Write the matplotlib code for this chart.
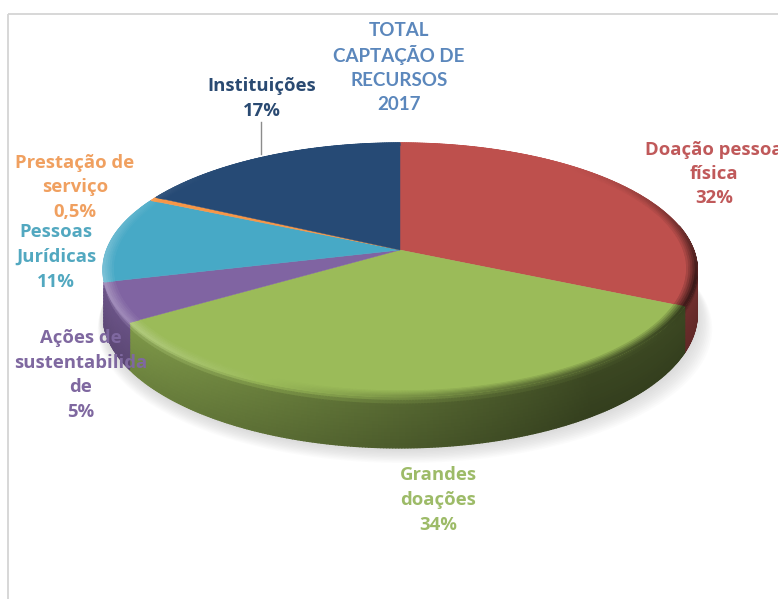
import numpy as np
import matplotlib
matplotlib.use('Agg')
import matplotlib.pyplot as plt
from matplotlib.collections import PolyCollection
from matplotlib.colors import to_rgb

title_lines = ['TOTAL', 'CAPTAÇÃO DE', 'RECURSOS', '2017']
categories = ['Doação pessoa\nfísica', 'Grandes\ndoações', 'Ações de\nsustentabilida\nde',
              'Pessoas\nJurídicas', 'Prestação de\nserviço', 'Instituições']
values = [32, 34, 5, 11, 0.5, 17]
value_labels = ['32%', '34%', '5%', '11%', '0,5%', '17%']
colors = ['#BE504D', '#9BBB59', '#8064A2', '#47A9C6', '#F79646', '#264A75']
text_colors = ['#C0595A', '#9DBB68', '#7F68A0', '#52A8C0', '#F0A060', '#2A4A72']

# where each label sits, in pixels: centre x, first line y, line step
label_pos = [(714, 150, 24.2), (438, 475, 25), (81, 338, 24.7),
             (56, 232, 25), (75, 163, 24.5), (262, 86, 25)]

plt.rcParams['font.family'] = ['Open Sans', 'DejaVu Sans']

W, H = 778, 599
fig = plt.figure(figsize=(W / 100, H / 100), dpi=100)
ax = fig.add_axes([0, 0, 1, 1])
ax.set_xlim(0, W)
ax.set_ylim(H, 0)
ax.axis('off')

# pie plane seen in perspective
CX, CY = 400, 250
RX, RY = 293.6, 124
K = 0.156
DEPTH = 43


def project(theta, r=1.0):
    # theta in degrees, clockwise from 12 o'clock
    t = np.radians(theta)
    u, v = r * np.sin(t), r * np.cos(t)
    w = 1 / (1 + K * v)
    return CX + RX * u * w, CY - RY * v * w, w


def shade(c, f):
    c = np.array(c)
    if f > 1:
        return tuple(c + (1 - c) * (f - 1))
    return tuple(c * f)


def mix(a, b, t):
    return tuple(np.array(a) * (1 - t) + np.array(b) * t)


def rim_factor(u):
    return 0.8 - 0.5 * u


edges = np.cumsum([0] + values) / 100 * 360
edges[-1] = 360

# soft shadow under the disc
th = np.linspace(0, 360, 361)
px, py, pw = project(th)
for d in np.linspace(20, 2, 10):
    ax.fill(CX + (px - CX) * (1 + d / 600) + d * 0.25, py + (DEPTH + 1) * pw + d * 0.7,
            color='#808080', alpha=0.028, lw=0, zorder=1)

# side wall, small quads so the gradient follows the rim
polys, cols = [], []
step = 0.5
n_depth = 14
for i, val in enumerate(values):
    base = to_rgb(colors[i])
    a = edges[i]
    while a < edges[i + 1] - 1e-6:
        b = min(a + step, edges[i + 1])
        xa, ya, wa = project(a)
        xb, yb, wb = project(b)
        m = (a + b) / 2
        u, v = np.sin(np.radians(m)), np.cos(np.radians(m))
        if v < 0.2 and not (u < 0 and v > -0.25):
            f = max(0.55 - 0.3 * u, 0.38)
            if i == 0:
                f = 0.58
            side = shade(base, f)
            glow = shade(base, rim_factor(u))
            for j in range(n_depth):
                t0, t1 = j / n_depth, (j + 1) / n_depth
                tm = (t0 + t1) / 2
                if tm < 0.16:
                    c = mix(glow, side, tm / 0.16)
                else:
                    c = mix(side, shade(side, 0.88), (tm - 0.16) / 0.84)
                polys.append([(xa, ya + DEPTH * wa * t0), (xb, yb + DEPTH * wb * t0),
                              (xb, yb + DEPTH * wb * t1), (xa, ya + DEPTH * wa * t1)])
                cols.append(c)
        a = b
ax.add_collection(PolyCollection(polys, facecolors=cols, edgecolors=cols, linewidths=1.0, zorder=2))

# top face
for i, val in enumerate(values):
    th = np.arange(edges[i], edges[i + 1] + 0.01, 0.25)
    if th[-1] < edges[i + 1]:
        th = np.append(th, edges[i + 1])
    x, y, _ = project(th)
    ax.fill(np.r_[CX, x], np.r_[CY, y], color=colors[i], lw=0.3, zorder=3)

# rounded edge of the top face
polys, cols = [], []
rings = np.linspace(0.965, 1.0, 6)
for i, val in enumerate(values):
    base = to_rgb(colors[i])
    a = edges[i]
    while a < edges[i + 1] - 1e-6:
        b = min(a + step, edges[i + 1])
        m = (a + b) / 2
        u, v = np.sin(np.radians(m)), np.cos(np.radians(m))
        strength = np.clip(0.75 - v, 0, 1)
        rim = shade(base, rim_factor(u))
        for r0, r1 in zip(rings[:-1], rings[1:]):
            xa0, ya0, _ = project(a, r0)
            xb0, yb0, _ = project(b, r0)
            xa1, ya1, _ = project(a, r1)
            xb1, yb1, _ = project(b, r1)
            t = (r1 - rings[0]) / (rings[-1] - rings[0]) * strength
            polys.append([(xa0, ya0), (xb0, yb0), (xb1, yb1), (xa1, ya1)])
            cols.append(mix(base, rim, t))
        a = b
ax.add_collection(PolyCollection(polys, facecolors=cols, edgecolors=cols, linewidths=0.6, zorder=4))

# frame of the picture
ax.plot([8, 8], [14, H], color='#d4d4d4', lw=1.3, zorder=5, solid_capstyle='butt')
ax.plot([8, W], [14, 14], color='#d4d4d4', lw=1.3, zorder=5, solid_capstyle='butt')

# leader line for Instituições
ax.plot([261, 261], [122, 154], color='#8c8c8c', lw=1, zorder=5)

for i, cat in enumerate(categories):
    lines = cat.split('\n') + [value_labels[i]]
    lx, ly, dy = label_pos[i]
    for j, line in enumerate(lines):
        ax.text(lx, ly + j * dy, line, color=text_colors[i], fontsize=13.3, fontweight='bold',
                ha='center', va='center', zorder=6)

for j, line in enumerate(title_lines):
    ax.text(399, 30 + j * 25, line, color='#5B87BC', fontsize=13.5, fontweight='bold',
            family=['Lato', 'DejaVu Sans'], ha='center', va='center', zorder=6)

fig.savefig('out.png', dpi=100, facecolor='white')
